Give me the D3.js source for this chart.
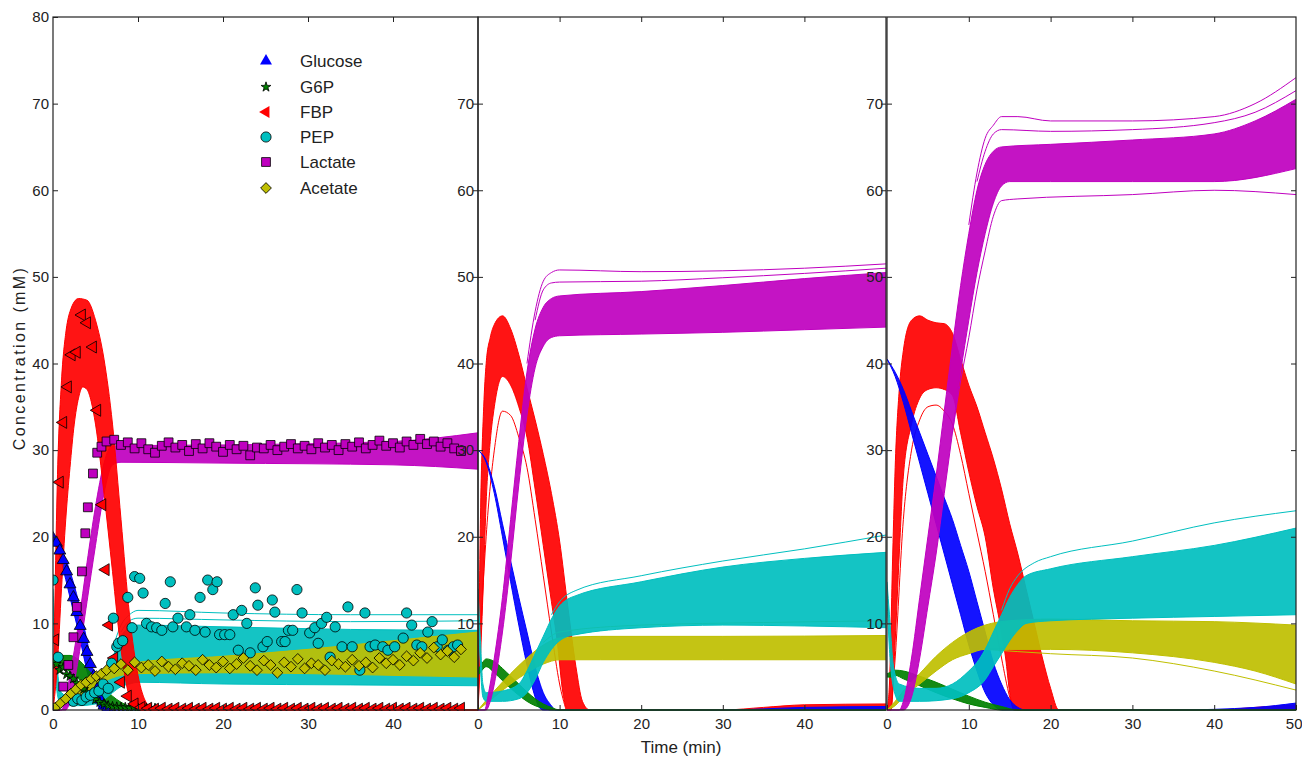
<!DOCTYPE html>
<html>
<head>
<meta charset="utf-8">
<script src="https://cdn.jsdelivr.net/npm/d3@7"></script>
<style>
body{margin:0;background:#fff;}
text{font-family:"Liberation Sans",Arial,sans-serif;fill:#222;}
</style>
</head>
<body>
<div id="chart"></div>
<script>
// species + colours (MATLAB default colour order)
var names = ["Glucose","G6P","FBP","PEP","Lactate","Acetate"];
var colors = ["#0000ff","#008000","#ff0000","#00bfbf","#bf00bf","#bfbf00"];

var yTicksLeft = [0,10,20,30,40,50,60,70,80];
var yTicksInner = [10,20,30,40,50,60,70];
var xTicksLeft = [0,10,20,30,40];
var xTicksMid = [0,10,20,30,40];
var xTicksRight = [0,10,20,30,40,50];

// ---- left panel, model ensemble envelopes [t, mM]
var L_gluLo = [[0,20],[1,17],[2,13],[3,9],[4,4.5],[5,1],[5.5,0.2],[6,0],[50,0]];
var L_gluHi = [[0,20],[1,18.5],[2,16],[3,12.5],[4,8],[5,3.5],[6,0.8],[6.7,0],[50,0]];
var L_g6pLo = [[0,5],[1,5],[2,4.4],[3,3.6],[4,2.7],[5,1.7],[6,0.9],[7,0.4],[8,0.1],[9,0],[50,0]];
var L_g6pHi = [[0,5.8],[1,6.3],[2,6.3],[3,5.8],[4,4.8],[5,3.7],[6,2.6],[7,1.6],[8,0.9],[9,0.4],[10,0.1],[11,0],[50,0]];
var L_fbpLo = [[0,0],[0.5,5],[1,14],[1.5,22],[2,28],[2.5,33],[3,36],[3.5,37.3],[4,37],[5,33],[6,25],[7,16],[8,7],[9,1.5],[10,0.1],[11,0],[50,0]];
var L_fbpHi = [[0,0],[0.25,14],[0.5,26],[1,38],[1.5,43.5],[2,46],[3,47.5],[4,47.3],[5,45],[6,40.5],[7,33],[8,22],[9,11],[10,4],[11,0.8],[12,0],[50,0]];
var L_pepLo = [[0,12],[0.3,4],[0.7,1],[1,0.5],[3,0.5],[5,0.7],[6,1.2],[7,2],[8,2.7],[9,3],[10,3.2],[20,3],[35,2.9],[50,2.8]];
var L_pepHi = [[0,14],[0.3,8],[0.7,3],[1,2],[2,1.5],[4,1.5],[5,2],[6,3.5],[7,6],[8,8.5],[9,9.5],[10,9.8],[20,9.6],[35,9.3],[50,9.2]];
var L_pepOut = [[7,7],[8,9.8],[9,11],[10,11.5],[20,11.2],[35,11],[50,11]];
var L_pepOut2 = [[8,9],[9,10.3],[10,10.6],[20,10.4],[35,10.2],[50,10.3]];
var L_lacLo = [[0,0],[1.5,0],[2,1],[3,6],[4,12.5],[5,19],[6,25],[7,28.3],[8,28.6],[20,28.5],[40,28.3],[50,27.8]];
var L_lacHi = [[0,0],[1,0],[1.5,1.5],[2,4],[3,10],[4,17],[5,23.5],[6,28.5],[6.5,30],[7,30.5],[20,30.6],[40,31],[50,32]];
var L_acLo = [[0,0],[2,1],[4,2.2],[6,3.3],[8,4],[10,4.2],[20,4.3],[30,4.2],[40,4],[50,3.8]];
var L_acHi = [[0,0],[2,1.8],[4,3.2],[6,4.3],[8,5],[10,5.5],[20,6.2],[30,7],[40,8],[50,9]];

// ---- middle panel
var M_gluLo = [[0,30],[1,28.6],[2,25],[3,20],[4,14.8],[5,9.8],[6,5.2],[7,1.5],[7.5,0.3],[8,0],[50,0]];
var M_gluHi = [[0,30],[1,28.8],[2,25.8],[3,21.5],[4,17.2],[5,13],[6,9],[7,5],[8,2],[9,0.5],[9.5,0],[30,0],[40,0.3],[50,0.4]];
var M_g6pLo = [[0,4],[0.5,4.6],[1,5],[2,4.3],[3,3.4],[4,2.5],[5,1.7],[6,1],[7,0.5],[8,0.2],[9,0],[50,0]];
var M_g6pHi = [[0,4.6],[0.5,5.4],[1,5.9],[2,5.6],[3,4.8],[4,3.9],[5,3],[6,2.1],[7,1.3],[8,0.7],[9,0.3],[10,0],[50,0]];
var M_fbpLo = [[0,0],[0.3,6],[0.7,16],[1,24],[1.5,31],[2,35],[3,38.5],[4,37.5],[5,35],[6,31.5],[7,25.5],[8,19],[9,12.5],[9.7,8],[10.4,2],[11,0],[50,0]];
var M_fbpHi = [[0,0],[0.3,22],[0.7,35],[1,40],[1.5,43],[2,44.5],[3,45.5],[4,44],[5,41],[6,37.2],[7,33.5],[8,29.5],[9,25],[10,19.5],[11,12],[12,5],[12.8,1],[13.7,0],[30,0],[35,0.3],[40,0.6],[50,0.7]];
var M_fbpOut = [[0,0],[0.5,12],[1,20],[2,30],[3,34.5],[4,34],[5,31.5],[6,28],[7,22],[8,15.5],[9,9],[10,3],[10.8,0]];
var M_pepLo = [[0,12],[0.3,5],[0.6,1.5],[1,1],[3,1],[5,1.3],[6,2],[7,3.5],[8,5.5],[9,7],[10,8],[11,8.5],[12,8.7],[20,9.5],[30,9.8],[40,9.7],[50,9.5]];
var M_pepHi = [[0,14],[0.3,8],[0.6,3],[1,2],[3,2.2],[5,3],[6,4.5],[7,6.5],[8,8.5],[9,10.5],[10,12],[11,12.8],[12,13.2],[20,14.8],[30,16.5],[40,17.5],[50,18.2]];
var M_pepOut = [[9,11],[10,12.5],[12,13.8],[20,15.5],[30,17.2],[40,18.6],[50,20.2]];
var M_lacLo = [[0,0],[1,0],[1.5,1],[2,3],[3,9],[4,17],[5,26],[6,34],[7,39.5],[8,42],[9,43],[10,43.2],[20,43.4],[30,43.6],[40,43.9],[50,44.2]];
var M_lacHi = [[0,0],[0.8,0],[1.3,2],[2,6],[3,13],[4,22],[5,31],[6,39],[7,44],[8,46.5],[9,47.5],[10,47.8],[20,48.3],[30,49],[40,49.8],[50,50.5]];
var M_lacOut = [[6,40],[7,46],[8,49.5],[9,50.5],[10,50.8],[20,50.6],[30,50.7],[40,51],[50,51.5]];
var M_lacOut2 = [[7,45],[8,48.5],[9,49.3],[10,49.4],[20,49.5],[30,49.9],[40,50.4],[50,51]];
var M_acLo = [[0,0],[2,1.5],[4,3],[6,4.3],[8,5.3],[10,5.8],[15,5.8],[30,5.8],[50,5.8]];
var M_acHi = [[0,0],[2,2.2],[4,4.2],[6,6],[8,7.5],[10,8.3],[15,8.5],[30,8.5],[50,8.6]];
var M_acOut = [[8,7.8],[10,9],[20,9.8],[35,10.1],[50,10.3]];

// ---- right panel
var R_gluLo = [[0,40.5],[1,38.5],[2,35.5],[3,32],[4,28.5],[5,25],[6,21.5],[7,18],[8,14.5],[9,11],[10,7.5],[11,4.5],[12,2],[13,0.6],[14,0],[50,0]];
var R_gluHi = [[0,40.5],[1,39],[2,37],[3,34.5],[4,32],[5,29.5],[6,27],[7,24.5],[8,22],[9,19],[10,16],[11,12.5],[12,9],[13,5.5],[14,3],[15,1.2],[16,0.3],[17,0],[35,0],[45,0.3],[50,0.8]];
var R_g6pLo = [[0,3.8],[0.5,3.8],[1,4],[2,3.6],[4,2.8],[6,2],[8,1.3],[10,0.7],[12,0.3],[14,0],[50,0]];
var R_g6pHi = [[0,4.2],[0.3,4.3],[0.6,4.5],[1,4.6],[2,4.5],[4,3.9],[6,3.2],[8,2.4],[10,1.6],[12,0.9],[14,0.4],[16,0],[50,0]];
var R_fbpLo = [[0,0],[0.5,0],[1,8],[1.5,18],[2,27],[3,33],[4,36],[5,37],[6,37.2],[7,37],[8,36.3],[9,32],[10,27.5],[11,23.5],[12,20],[13,14],[14,9],[14.5,6],[15,2],[15.5,0],[50,0]];
var R_fbpHi = [[0,0],[0.3,3],[0.7,18],[1,28],[1.5,37],[2,41.5],[3,45],[4,45.5],[5,45],[6,44.7],[7,44.6],[8,43.5],[9,40.5],[10,37.5],[11,35],[12,32],[13,29],[14,25.5],[15,21.5],[16,18],[17,14],[18,10],[19,6],[20,2.5],[21,0],[40,0],[45,0.3],[50,0.6]];
var R_fbpOut = [[0.5,0],[1,6],[2,22],[3,30],[4,33.5],[5,35],[6,35.2],[7,34.5],[8,33],[9,29.5],[10,25],[11,20.5],[12,16],[13,11],[14,6],[15,1.5],[15.5,0]];
var R_pepLo = [[0,13],[0.3,7],[0.8,2.5],[1.5,1],[4,1],[8,1.3],[10,2],[12,3.5],[13,5],[14,6.5],[15,8],[16,9.2],[17,10],[20,10.3],[30,10.6],[40,10.8],[50,11]];
var R_pepHi = [[0,14.8],[0.3,11],[0.8,5],[1.5,3],[4,2.5],[6,2.5],[8,3],[10,4.5],[11,5.5],[12,7],[13,9],[14,11],[15,13],[16,14.5],[17,15.5],[20,16.3],[30,17.7],[40,19],[50,21]];
var R_pepOut = [[14,11.5],[15,14],[16,15.5],[18,17],[20,17.7],[30,19.5],[40,21.6],[50,23]];
var R_lacLo = [[0,0],[2,0],[3,1.5],[4,6],[5,12],[6,18],[7,25],[8,32],[9,39],[10,45],[11,50.5],[12,55],[13,58.5],[14,60.5],[15,61],[20,61],[30,61],[40,61],[50,62.5]];
var R_lacHi = [[0,0],[1.5,0],[2,1],[3,6],[4,13],[5,20],[6,27],[7,34.5],[8,42],[9,49],[10,55],[11,60],[12,63],[13,64.5],[14,65],[20,65.3],[30,65.8],[40,66.5],[45,68],[50,70.5]];
var R_lacOut1 = [[10,56],[11,62],[12,66],[13,67.5],[14,68.5],[16,68.5],[20,68],[30,68],[40,68.5],[45,70],[50,73]];
var R_lacOut2 = [[8,32],[9,38],[10,43],[11,48.5],[12,53],[13,57],[14,58.8],[16,59],[30,59.5],[40,60],[50,59.5]];
var R_lacOut3 = [[11,61],[12,64.5],[13,66.5],[14,67],[20,66.8],[30,67],[40,67.8],[45,69],[50,71.5]];
var R_acLo = [[0,0],[1,0.5],[2,1.5],[4,3],[6,4.5],[8,5.8],[10,6.5],[12,7],[15,7],[20,7],[30,6.6],[40,5.5],[45,4.5],[50,3]];
var R_acHi = [[0,0],[1,1],[2,2.2],[4,4.2],[6,6.2],[8,7.8],[10,9],[12,9.8],[15,10.3],[20,10.5],[30,10.3],[40,10.2],[50,9.8]];
var R_acOut = [[12,7],[20,6.5],[30,6],[40,4.5],[50,2.3]];

// ---- measured points (left panel)
var gluExpT = [0,0.4,0.8,1.2,1.6,2.0,2.4,2.8,3.2,3.6,4.0,4.4,4.8,5.2,5.6,6.0,6.4];
var gluExpV = [19.8,19.3,18.4,17.3,16.0,14.5,13.0,11.3,9.7,8.2,6.7,5.3,3.9,2.4,1.2,0.5,0.2];
var g6pExpT = [0,0.4,0.8,1.2,1.6,2.0,2.4,2.8,3.2,3.6,4.0,4.5,5.0,5.5,6.0,6.5,7.0,7.5,8.0,8.5,9.0,9.5,10.0,10.5,11.0,11.5,12.0];
var g6pExpV = [5.6,5.3,4.6,4.9,4.1,3.9,3.6,3.1,2.8,2.4,2.0,1.6,1.2,0.9,0.7,0.5,0.4,0.35,0.3,0.3,0.25,0.3,0.2,0.25,0.2,0.2,0.2];
var fbpExpT = [0,0.25,0.8,1.2,1.75,2.2,2.8,3.4,4.0,4.7,5.2,5.8,6.2,6.6];
var fbpExpV = [0,8.1,26.3,33.2,37.3,41.0,41.3,45.6,44.7,41.9,34.6,23.7,16.2,9.8];
var lacExpT = [0.2,1.2,1.8,2.4,2.8,3.4,3.8,4.1,4.7,5.2,5.7,6.3];
var lacExpV = [0.2,2.7,5.2,8.4,11.9,16.0,20.4,23.4,27.3,29.7,30.4,31.0];
var acExpT = [0.3,0.9,1.5,2.1,2.7,3.3,3.9,4.5,5.1,5.7,6.3];
var acExpV = [0.3,0.8,1.3,1.9,2.4,2.9,3.2,3.6,3.9,4.2,4.6];
var pepExpT = [0,0.6,2.4,2.9,3.4,3.9,4.4,4.9,5.4,5.9,6.5,6.9,7.1,7.5,7.7,8.2,8.8,9.3,9.6,10.2,10.6,11.0,11.6,12.2,12.8,13.2,13.8,14.1,14.7,15.7,16.1,16.7,17.3,17.9,18.2,18.8,19.3,19.6,20.2,20.8,21.2,21.8,22.2,22.8,23.2,23.8,24.1,24.7,25.2,25.8,26.1,26.9,27.3,27.7,28.2,28.7,29.3,30.2,30.8,31.2,31.6,32.2,32.6,33.2,34.0,34.7,35.2,36.1,36.7,37.3,37.9,38.8,39.4,40.2,41.2,41.6,42.2,42.8,43.4,44.1,44.6,45.2,45.8,46.5,47.1,47.6];
var pepExpV = [15,6.1,1.0,1.3,1.1,1.5,1.7,2.0,2.2,3.0,2.5,5.4,10.6,7.3,7.7,8.0,13.0,9.5,15.4,15.2,13.5,10.0,9.6,9.5,9.2,12.3,14.8,9.6,10.6,9.6,11.0,9.2,13.0,9.0,15.0,13.9,14.8,8.7,8.7,8.7,11.0,6.9,11.5,10.0,6.6,14.1,12.1,7.3,7.9,12.7,11.3,7.9,7.9,9.2,9.2,13.9,11.2,8.9,9.5,7.7,10.0,10.7,6.1,9.6,7.3,11.9,7.3,4.6,11.2,7.3,7.5,7.3,6.9,7.3,8.3,11.2,9.8,7.5,7.3,9.0,10.2,7.3,8.1,6.9,7.3,7.5];
// later samples every 0.8 min from 7.2 to 48
var tLate = d3.range(7.2, 48.05, 0.8);
var fbpLate = [6.0,3.2,1.6,0.7,0.3,0.2,0.1,0.2,0.1,0.2,0.1,0.2,0.1,0.2,0.1,0.2,0.1,0.2,0.1,0.2,0.1,0.2,0.1,0.2,0.1,0.2,0.1,0.2,0.1,0.2,0.1,0.2,0.1,0.2,0.1,0.2,0.1,0.2,0.1,0.2,0.1,0.2,0.1,0.2,0.1,0.2,0.1,0.2,0.1,0.2,0.1,0.2];
var lacLate = [31.2,30.6,30.9,30.2,30.8,30.1,29.7,30.5,30.9,30.3,30.6,29.9,30.7,30.2,30.8,30.4,29.8,30.6,30.1,30.5,29.4,30.3,30.2,30.6,30.0,30.4,30.7,30.2,30.5,30.1,30.8,30.3,30.6,30.0,30.7,30.4,30.9,30.2,30.6,31.1,30.5,30.8,30.3,31.0,30.6,31.3,30.7,31.0,30.4,30.8,30.2,29.9];
var acLate = [4.8,5.3,4.6,5.5,4.9,5.2,4.5,5.6,5.0,4.7,5.4,5.1,4.6,5.8,5.2,4.9,5.6,4.8,5.3,6.0,5.1,4.6,5.7,5.2,4.3,5.5,5.0,5.9,4.8,5.4,5.2,4.6,5.7,5.3,5.0,5.8,5.1,5.5,4.9,6.0,5.4,5.8,5.2,6.2,5.7,6.6,6.0,7.2,6.4,6.8,6.1,7.0];

var width = 1302, height = 757;
var yTop = 17, yBot = 710;

var svg = d3.select("#chart").append("svg")
	.attr("width", width)
	.attr("height", height)
	.style("display","block")
	.style("background","#fff");

var y = d3.scaleLinear().domain([0,80]).range([yBot,yTop]);

function zip(t, v){
	return t.map(function(d,i){ return [d, v[i]]; });
}

var panels = [
	{id:"L", x0:53, x1:478, yTicks:yTicksLeft, xTicks:xTicksLeft, series:[
		{c:colors[0], lo:L_gluLo, hi:L_gluHi, out:[]},
		{c:colors[1], lo:L_g6pLo, hi:L_g6pHi, out:[]},
		{c:colors[3], lo:L_pepLo, hi:L_pepHi, out:[L_pepOut,L_pepOut2]},
		{c:colors[5], lo:L_acLo, hi:L_acHi, out:[]},
		{c:colors[4], lo:L_lacLo, hi:L_lacHi, out:[]},
		{c:colors[2], lo:L_fbpLo, hi:L_fbpHi, out:[]}
	]},
	{id:"M", x0:478, x1:886, yTicks:yTicksInner, xTicks:xTicksMid, series:[
		{c:colors[2], lo:M_fbpLo, hi:M_fbpHi, out:[M_fbpOut]},
		{c:colors[0], lo:M_gluLo, hi:M_gluHi, out:[]},
		{c:colors[1], lo:M_g6pLo, hi:M_g6pHi, out:[]},
		{c:colors[5], lo:M_acLo, hi:M_acHi, out:[M_acOut]},
		{c:colors[3], lo:M_pepLo, hi:M_pepHi, out:[M_pepOut]},
		{c:colors[4], lo:M_lacLo, hi:M_lacHi, out:[M_lacOut,M_lacOut2]}
	]},
	{id:"R", x0:887, x1:1296, yTicks:yTicksInner, xTicks:xTicksRight, series:[
		{c:colors[2], lo:R_fbpLo, hi:R_fbpHi, out:[R_fbpOut]},
		{c:colors[0], lo:R_gluLo, hi:R_gluHi, out:[]},
		{c:colors[1], lo:R_g6pLo, hi:R_g6pHi, out:[]},
		{c:colors[5], lo:R_acLo, hi:R_acHi, out:[R_acOut]},
		{c:colors[3], lo:R_pepLo, hi:R_pepHi, out:[R_pepOut]},
		{c:colors[4], lo:R_lacLo, hi:R_lacHi, out:[R_lacOut1,R_lacOut2,R_lacOut3]}
	]}
];

panels.forEach(function(p){
	p.x = d3.scaleLinear().domain([0,50]).range([p.x0,p.x1]);
});

function lineFor(x){
	return d3.line()
		.x(function(d){ return x(d[0]); })
		.y(function(d){ return y(d[1]); })
		.curve(d3.curveMonotoneX);
}

function bandPath(x, lo, hi){
	var line = lineFor(x);
	var a = line(hi);
	var b = line(lo.slice().reverse());
	return a + "L" + b.substring(1) + "Z";
}

// data layers first, so that the next panel's tick labels sit on top
panels.forEach(function(p){
	svg.append("clipPath").attr("id","clip"+p.id)
		.append("rect")
		.attr("x",p.x0).attr("y",yTop)
		.attr("width",p.x1-p.x0).attr("height",yBot-yTop+1);
	var g = svg.append("g").attr("clip-path","url(#clip"+p.id+")");
	var line = lineFor(p.x);
	p.series.forEach(function(s){
		g.append("path")
			.attr("d", bandPath(p.x, s.lo, s.hi))
			.attr("fill", s.c)
			.attr("fill-opacity",0.92)
			.attr("stroke","none");
		[s.lo, s.hi].concat(s.out).forEach(function(arr){
			g.append("path")
				.attr("d", line(arr))
				.attr("fill","none")
				.attr("stroke", s.c)
				.attr("stroke-width",1);
		});
	});
	p.g = g;
});

// markers for the measured data in the left panel
var tri = d3.symbol().type(d3.symbolTriangle).size(62);
var star = d3.symbol().type(d3.symbolStar).size(30);
var circ = d3.symbol().type(d3.symbolCircle).size(82);
var sq = d3.symbol().type(d3.symbolSquare).size(78);
var dia = d3.symbol().type(d3.symbolSquare).size(58);

var markerSets = [
	{pts: zip(gluExpT,gluExpV), sym: tri, rot: 0, c: colors[0]},
	{pts: zip(g6pExpT,g6pExpV), sym: star, rot: 0, c: colors[1]},
	{pts: zip(fbpExpT,fbpExpV).concat(zip(tLate,fbpLate)), sym: tri, rot: -90, c: colors[2]},
	{pts: zip(pepExpT,pepExpV), sym: circ, rot: 0, c: colors[3]},
	{pts: zip(lacExpT,lacExpV).concat(zip(tLate,lacLate)), sym: sq, rot: 0, c: colors[4]},
	{pts: zip(acExpT,acExpV).concat(zip(tLate,acLate)), sym: dia, rot: 45, c: colors[5]}
];

var pL = panels[0];
markerSets.forEach(function(m){
	pL.g.selectAll(null)
		.data(m.pts)
		.enter().append("path")
		.attr("d", m.sym())
		.attr("transform", function(d){
			return "translate(" + pL.x(d[0]) + "," + y(d[1]) + ") rotate(" + m.rot + ")";
		})
		.attr("fill", m.c)
		.attr("stroke","#000")
		.attr("stroke-width",0.8);
});

// axes
panels.forEach(function(p){
	var ax = svg.append("g");
	var left = ax.append("g")
		.attr("transform","translate("+p.x0+",0)")
		.call(d3.axisLeft(y).tickValues(p.yTicks).tickSizeInner(-5).tickSizeOuter(0).tickPadding(4));
	var right = ax.append("g")
		.attr("transform","translate("+p.x1+",0)")
		.call(d3.axisRight(y).tickValues(yTicksInner).tickSizeInner(-5).tickSizeOuter(0).tickFormat(""));
	var bottom = ax.append("g")
		.attr("transform","translate(0,"+yBot+")")
		.call(d3.axisBottom(p.x).tickValues(p.xTicks).tickSizeInner(-5).tickSizeOuter(0).tickPadding(8));
	var top = ax.append("g")
		.attr("transform","translate(0,"+yTop+")")
		.call(d3.axisTop(p.x).tickValues([10,20,30,40]).tickSizeInner(-5).tickSizeOuter(0).tickFormat(""));
	[left,right,bottom,top].forEach(function(a){
		a.select(".domain").remove();
		a.selectAll("line").attr("stroke","#222");
		a.selectAll("text").attr("font-size",15).attr("fill","#222")
			.style("font-family","'Liberation Sans',Arial,sans-serif");
	});
	// keep the last label at the page edge inside the window
	bottom.selectAll(".tick text").filter(function(d){ return d == 50; })
		.attr("text-anchor","end").attr("x",6);
	ax.append("rect")
		.attr("x",p.x0).attr("y",yTop)
		.attr("width",p.x1-p.x0).attr("height",yBot-yTop)
		.attr("fill","none")
		.attr("stroke","#222")
		.attr("stroke-width",1.2);
});

// axis titles
svg.append("text")
	.attr("x",681).attr("y",753)
	.attr("text-anchor","middle")
	.attr("font-size",17)
	.text("Time (min)");
svg.append("text")
	.attr("transform","translate(25,358) rotate(-90)")
	.attr("text-anchor","middle")
	.attr("font-size",16)
	.attr("letter-spacing","2.4px")
	.text("Concentration (mM)");

// legend
var legSyms = [
	{sym: tri, rot: 0},
	{sym: star, rot: 0},
	{sym: tri, rot: -90},
	{sym: circ, rot: 0},
	{sym: sq, rot: 0},
	{sym: dia, rot: 45}
];
var legRows = [61,87,112,137,162,188];
var leg = svg.append("g");
names.forEach(function(n,i){
	leg.append("path")
		.attr("d", legSyms[i].sym())
		.attr("transform","translate(266,"+legRows[i]+") rotate("+legSyms[i].rot+")")
		.attr("fill", colors[i])
		.attr("stroke", i==0 || i==2 ? "none" : "#000")
		.attr("stroke-width",0.8);
	leg.append("text")
		.attr("x",300).attr("y",legRows[i])
		.attr("dy","0.35em")
		.attr("font-size",17)
		.text(n);
});
</script>
</body>
</html>
